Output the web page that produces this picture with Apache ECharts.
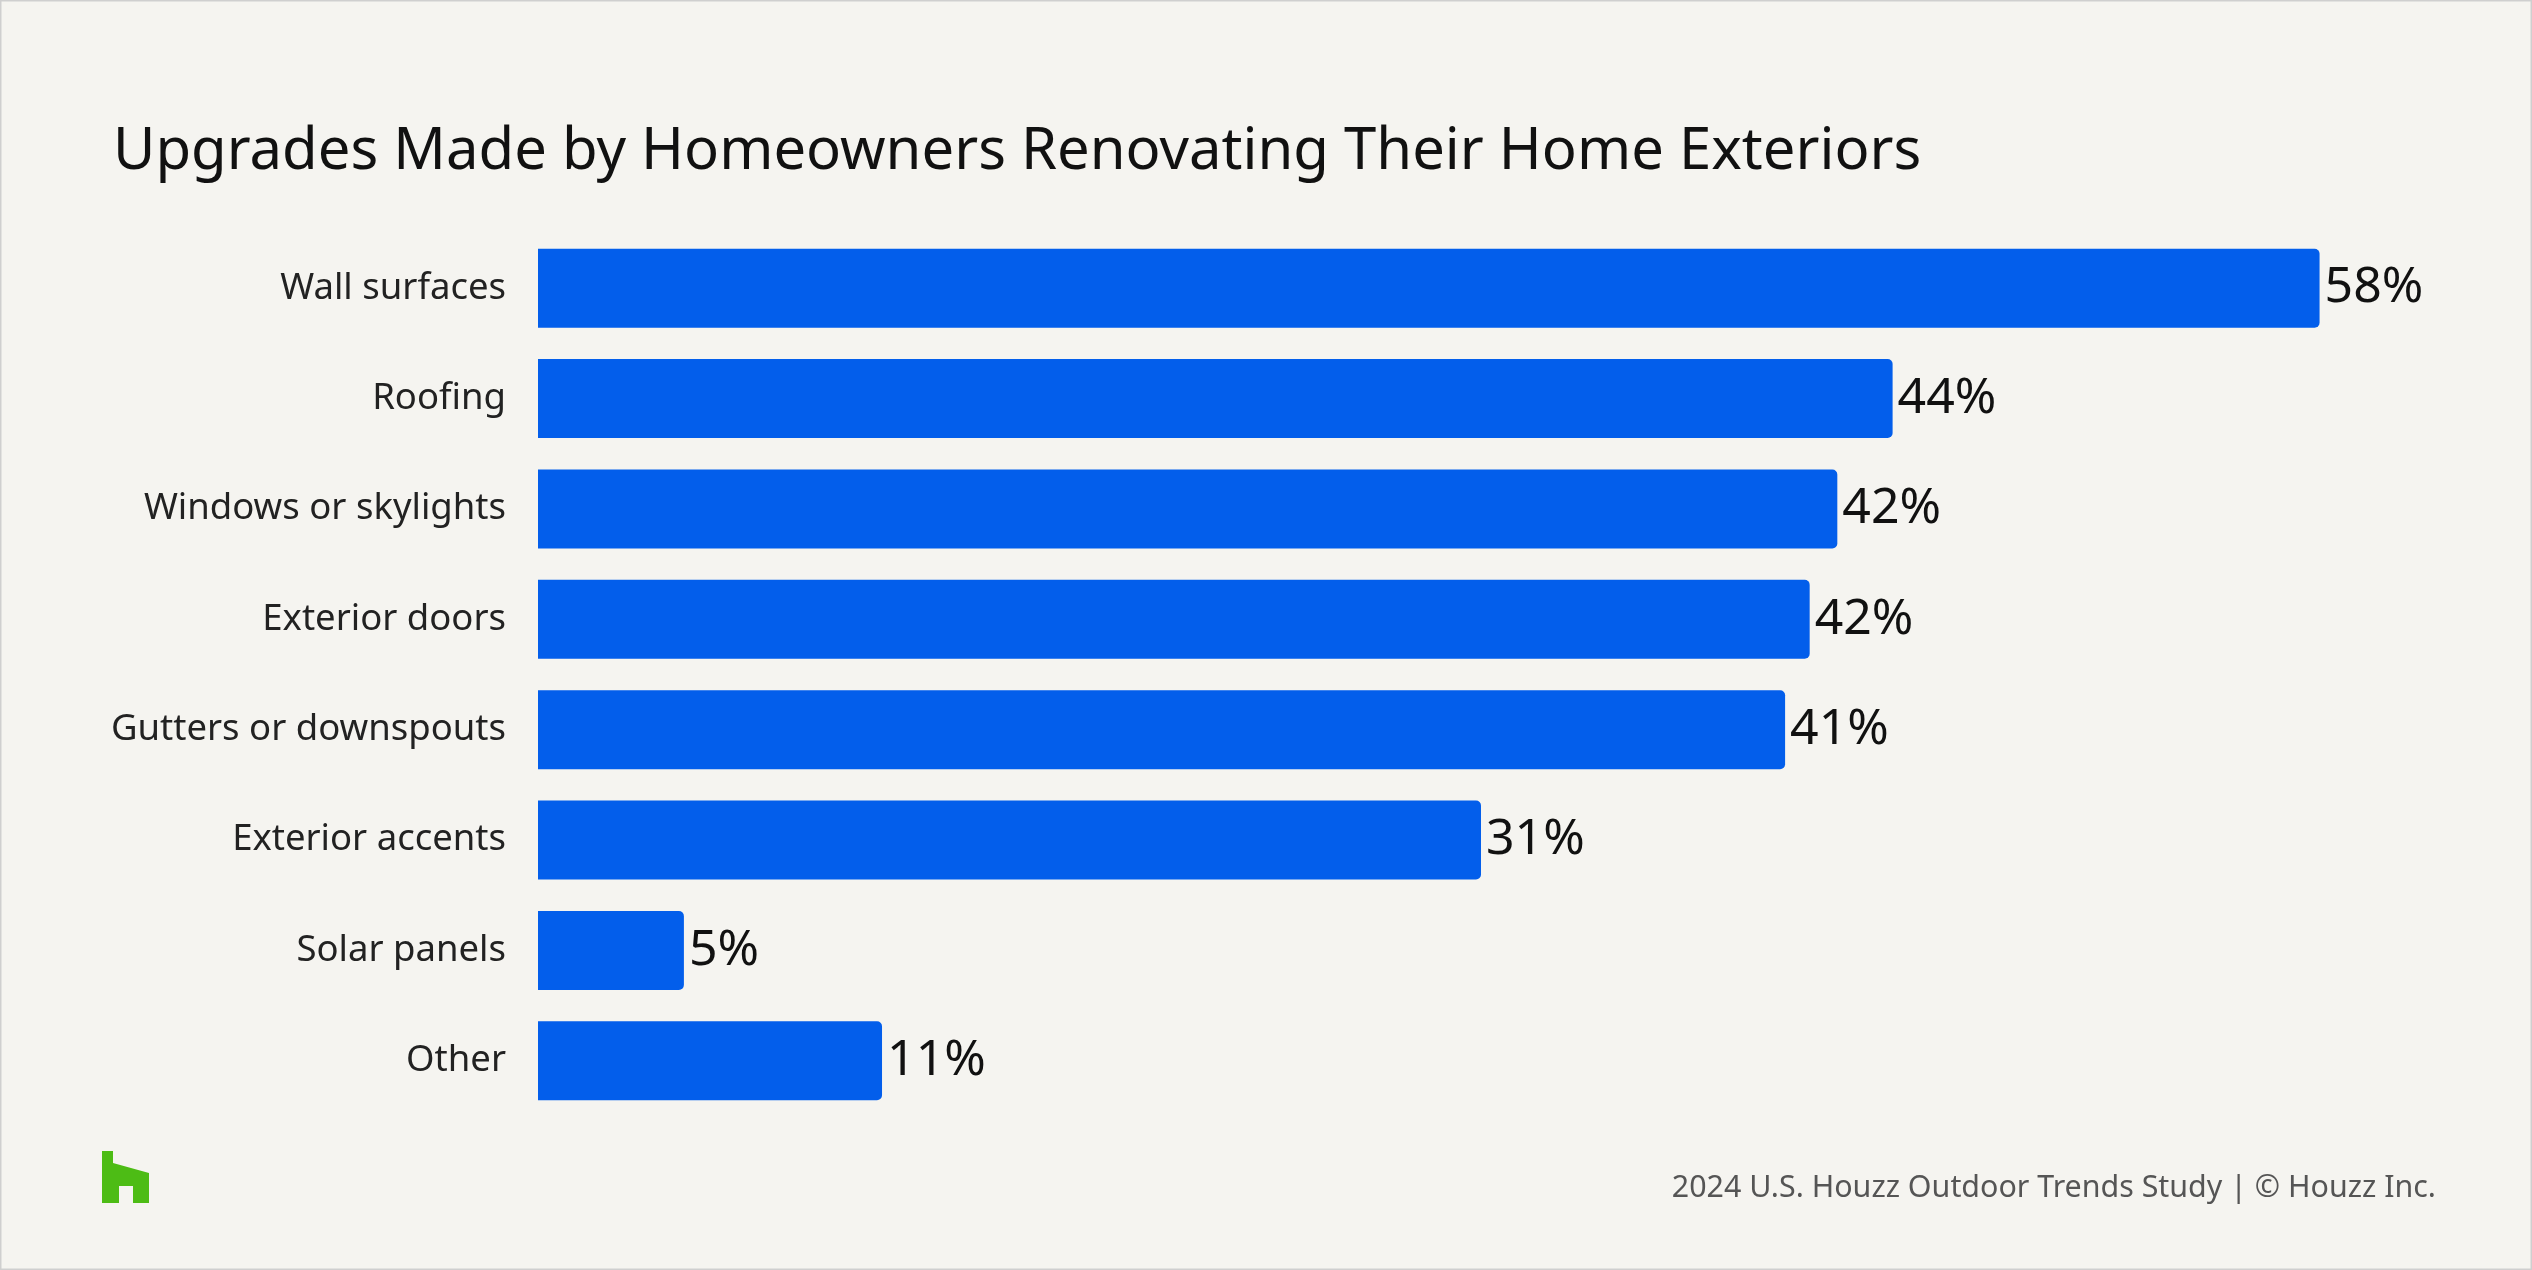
<!DOCTYPE html>
<html>
<head>
<meta charset="utf-8">
<script src="https://cdn.jsdelivr.net/npm/echarts@6/dist/echarts.min.js"></script>
<style>
html,body{margin:0;padding:0;background:#F5F4F0;}
#chart{width:2532px;height:1270px;}
</style>
</head>
<body>
<div id="chart"></div>
<script>
const categories = ["Wall surfaces","Roofing","Windows or skylights","Exterior doors","Gutters or downspouts","Exterior accents","Solar panels","Other"];
const values = [58, 44.1, 42.3, 41.4, 40.6, 30.7, 4.75, 11.2];
const valueLabels = ["58%","44%","42%","42%","41%","31%","5%","11%"];
const titleText = "Upgrades Made by Homeowners Renovating Their Home Exteriors";
const footerText = "2024 U.S. Houzz Outdoor Trends Study | © Houzz Inc.";

const chart = echarts.init(document.getElementById('chart'));
const font = "'Noto Sans', sans-serif";
chart.setOption({
  backgroundColor: '#F5F4F0',
  animation: false,
  title: {
    text: titleText, left: 108, top: 118,
    textStyle: {fontFamily: font, fontSize: 58, fontWeight: 'normal', color: '#111'}
  },
  grid: {left: 538, right: 151, top: 233, bottom: 154},
  xAxis: {type: 'value', min: 0, max: 60, show: false},
  yAxis: {
    type: 'category', data: categories, inverse: true,
    axisLine: {show: false}, axisTick: {show: false},
    axisLabel: {fontFamily: font, fontSize: 36.5, color: '#222', margin: 32, padding: [6, 0, 0, 0]}
  },
  series: [{
    type: 'bar', data: values, barCategoryGap: '28.4%',
    itemStyle: {color: '#035EEB', borderRadius: [0, 5, 5, 0]},
    label: {
      show: true, position: 'right', distance: 5,
      fontFamily: font, fontSize: 50, color: '#111',
      formatter: p => valueLabels[p.dataIndex]
    }
  }],
  graphic: [
    {type: 'rect', shape: {x: 0.5, y: 0.5, width: 2531, height: 1269}, style: {fill: 'none', stroke: '#CFCFCF', lineWidth: 2}, silent: true},
    {type: 'polygon', shape: {points: [[102,1151],[113,1151],[113,1163],[149,1173],[149,1203],[133,1203],[133,1186],[119,1186],[119,1203],[102,1203]]}, style: {fill: '#4DBC15'}},
    {type: 'text', right: 96, top: 1173, style: {text: footerText, font: "30.4px 'Noto Sans', sans-serif", fill: '#555'}}
  ]
});
</script>
</body>
</html>
